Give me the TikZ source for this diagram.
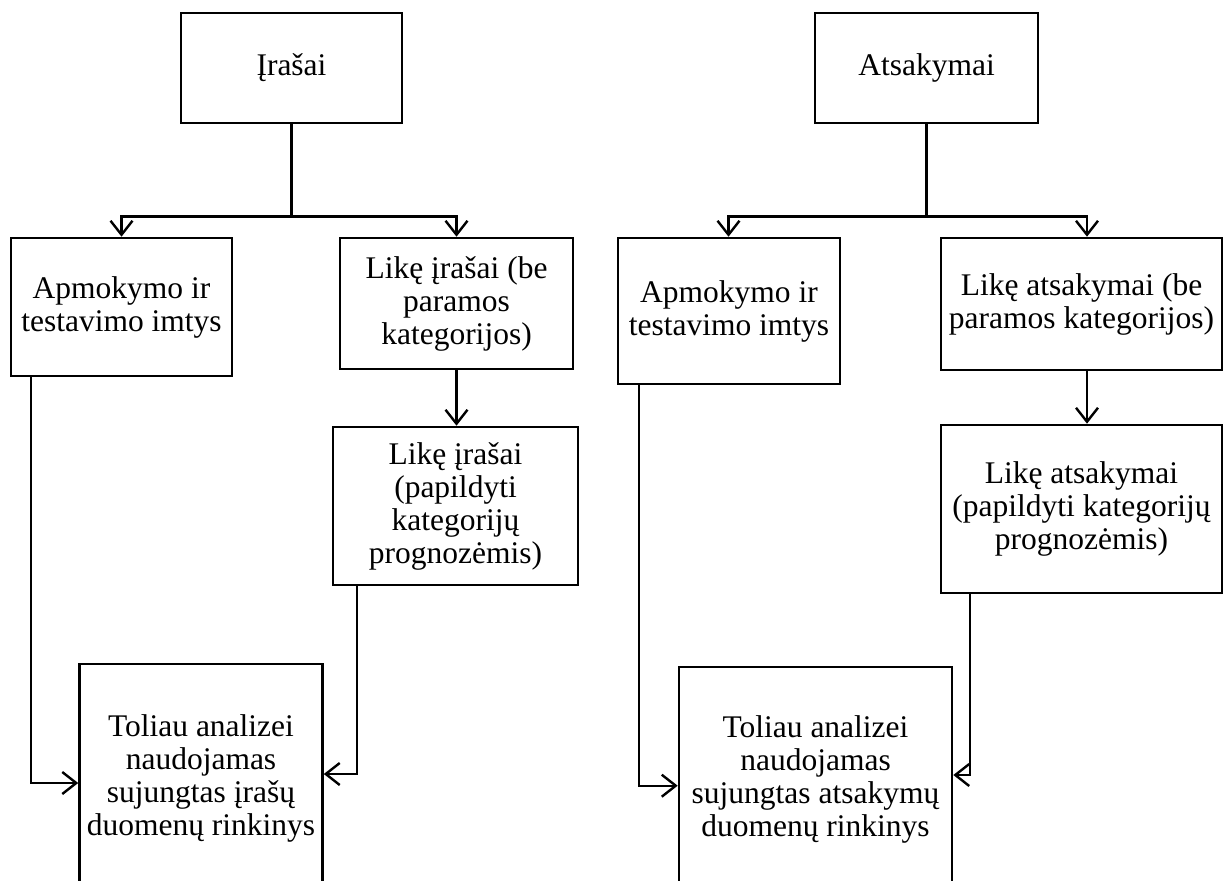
\documentclass[tikz,border=0pt]{standalone}
\usepackage{fontspec}
\setmainfont{Liberation Serif}
\usetikzlibrary{arrows.meta}
\begin{document}
\begin{tikzpicture}[x=1pt,y=-1pt,
  box/.style={draw, line width=2.6pt, inner sep=0pt, align=center, font=\fontsize{31.5}{33}\selectfont},
  conn/.style={line width=2.4pt},
  arr/.style={conn, -{Straight Barb[length=14pt,width=22pt,line width=2.4pt]}}
]
\useasboundingbox (0,0) rectangle (1224,881);
\clip (0,0) rectangle (1224,881);

% left group
\node[box, minimum width=221pt, minimum height=110pt] (A1) at (291.5,68) {Įrašai};
\node[box, minimum width=221pt, minimum height=138pt] (B1) at (121.5,307) {Apmokymo ir\\testavimo imtys};
\node[box, minimum width=233pt, minimum height=131pt] (C1) at (456.5,303.5) {Likę įrašai (be\\paramos\\kategorijos)};
\node[box, minimum width=245pt, minimum height=158pt] (D1) at (455.5,506) {Likę įrašai\\(papildyti\\kategorijų\\prognozėmis)};
\node[box, minimum width=243pt, minimum height=229pt] (E1) at (201,778.5) {Toliau analizei\\naudojamas\\sujungtas įrašų\\duomenų rinkinys};

\draw[conn] (A1.south) -- ++(0,92) coordinate (J1);
\draw[arr] (J1) -| (B1.north);
\draw[arr] (J1) -| (C1.north);
\draw[arr] (C1.south) -- (C1.south |- D1.north);
\draw[arr] ([xshift=21.5pt]B1.south west) |- ([yshift=-4.5pt]E1.west);
\draw[arr] ([xshift=25pt]D1.south west) |- ([yshift=4.5pt]E1.east);

% right group
\node[box, minimum width=223pt, minimum height=110pt] (A2) at (926.5,68) {Atsakymai};
\node[box, minimum width=222pt, minimum height=146pt] (B2) at (729,311) {Apmokymo ir\\testavimo imtys};
\node[box, minimum width=281pt, minimum height=132pt] (C2) at (1081.5,304) {Likę atsakymai (be\\paramos kategorijos)};
\node[box, minimum width=281pt, minimum height=168pt] (D2) at (1081.5,509) {Likę atsakymai\\(papildyti kategorijų\\prognozėmis)};
\node[box, minimum width=273pt, minimum height=224pt] (E2) at (815.5,779) {Toliau analizei\\naudojamas\\sujungtas atsakymų\\duomenų rinkinys};

\draw[conn] (A2.south) -- ++(0,92) coordinate (J2);
\draw[arr] (J2) -| ([xshift=-0.5pt]B2.north);
\draw[arr] (J2) -| ([xshift=5.5pt]C2.north);
\draw[arr] ([xshift=5.5pt]C2.south) -- ([xshift=5.5pt]D2.north);
\draw[arr] ([xshift=22.5pt]B2.south west) |- ([yshift=-6.7pt]E2.west);
\draw[arr] ([xshift=30pt]D2.south west) |- ([yshift=4pt]E2.east);
\end{tikzpicture}
\end{document}
